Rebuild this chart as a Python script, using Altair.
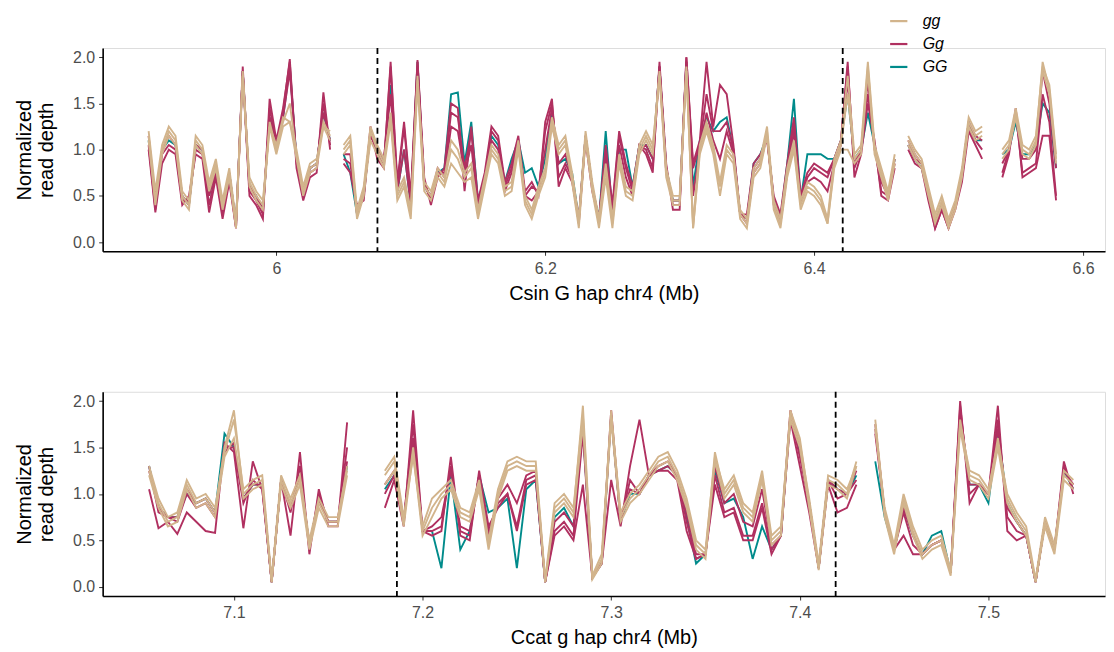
import altair as alt
import pandas as pd

# ---------------- data ----------------
TOP_START = 5.905
BOT_START = 7.055
STEP = 0.005

TOP_DOMAIN = [5.8708, 6.6164]
BOT_DOMAIN = [7.0304, 7.5618]
TOP_TICKS = [6.0, 6.2, 6.4, 6.6]
BOT_TICKS = [7.1, 7.2, 7.3, 7.4, 7.5]
Y_TICKS = [0.0, 0.5, 1.0, 1.5, 2.0]
TOP_DASHES = [6.0752, 6.4213]
BOT_DASHES = [7.1864, 7.4190]

GENOTYPES = ["gg", "Gg", "GG"]
COLORS = ["#D2B48C", "#B03060", "#008B8B"]

N = None

gg_top_1 = [1.15,0.45,1.00,1.20,1.10,0.50,0.40,1.10,1.00,0.60,
 0.85,0.40,0.75,0.18,1.85,0.65,0.50,0.40,1.30,1.00,
 1.30,1.50,0.95,0.55,0.80,0.85,1.30,1.15,N,1.00,
 1.10,0.30,0.55,1.20,1.00,0.85,1.40,0.50,0.65,0.30,
 1.80,0.60,0.50,0.75,0.65,1.00,0.90,0.70,0.80,0.30,
 0.65,1.00,0.90,0.55,0.60,1.05,0.45,0.30,0.55,0.75,
 1.30,1.00,1.10,0.70,0.20,1.15,0.60,0.20,0.80,0.20,
 0.90,0.55,0.50,1.00,1.15,1.00,1.85,0.75,0.45,0.45,
 1.90,0.15,1.00,1.25,1.00,0.60,1.00,0.90,0.30,0.20,
 0.75,0.85,1.20,0.40,0.20,0.75,1.05,0.40,0.60,0.55,
 0.45,0.20,0.85,1.05,1.60,0.90,1.00,1.90,1.00,0.75,
 0.50,0.90,N,1.10,0.95,0.85,0.55,0.25,0.45,0.20,
 0.40,0.75,1.30,1.15,1.20,N,N,0.95,1.05,1.40,
 1.00,0.95,1.10,1.95,1.65,0.90]

gg_top_2 = [1.20,0.55,1.05,1.25,1.15,0.55,0.45,1.15,1.05,0.65,
 0.90,0.45,0.80,0.22,1.80,0.70,0.55,0.45,1.25,1.05,
 1.35,1.30,1.00,0.60,0.85,0.90,1.25,1.20,N,1.05,
 1.15,0.35,0.60,1.25,1.05,0.90,1.35,0.55,0.70,0.35,
 1.75,0.65,0.55,0.80,0.70,1.10,1.00,0.75,0.85,0.35,
 0.70,1.05,0.95,0.60,0.65,1.10,0.50,0.35,0.60,0.80,
 1.35,1.05,1.15,0.75,0.25,1.20,0.65,0.25,0.85,0.25,
 0.95,0.60,0.55,1.05,1.20,1.05,1.80,0.80,0.50,0.50,
 1.85,0.20,1.05,1.30,1.05,0.65,1.05,0.95,0.35,0.25,
 0.80,0.90,1.25,0.45,0.25,0.80,1.10,0.45,0.65,0.60,
 0.50,0.25,0.90,1.10,1.80,0.95,1.05,1.95,1.05,0.80,
 0.55,0.95,N,1.15,1.00,0.90,0.60,0.30,0.50,0.25,
 0.45,0.80,1.35,1.20,1.25,N,N,1.00,1.10,1.45,
 1.05,1.00,1.15,1.90,1.70,0.95]

gg_top_3 = [1.10,0.40,0.95,1.15,1.05,0.45,0.35,1.05,0.95,0.55,
 0.80,0.35,0.70,0.15,1.80,0.60,0.45,0.35,1.25,0.95,
 1.25,1.30,0.90,0.50,0.75,0.80,1.25,1.10,N,0.95,
 1.05,0.25,0.50,1.10,0.95,0.80,1.30,0.45,0.60,0.25,
 1.70,0.55,0.45,0.70,0.60,0.85,0.75,0.65,0.70,0.25,
 0.60,0.95,0.85,0.50,0.55,1.00,0.40,0.25,0.50,0.70,
 1.25,0.95,1.05,0.65,0.15,1.10,0.55,0.15,0.70,0.15,
 0.85,0.50,0.45,0.95,1.10,0.95,1.80,0.70,0.40,0.40,
 1.85,0.15,0.95,1.20,0.95,0.50,0.95,0.85,0.25,0.15,
 0.70,0.80,1.15,0.35,0.15,0.70,1.00,0.35,0.55,0.50,
 0.40,0.20,0.80,1.00,1.00,0.85,0.95,1.85,0.95,0.70,
 0.45,0.85,N,1.05,0.90,0.80,0.50,0.20,0.40,0.15,
 0.35,0.70,1.25,1.10,1.15,N,N,0.90,1.00,1.35,
 0.95,0.90,1.05,1.85,1.60,0.85]

Gg_top_1 = [1.05,0.35,0.95,1.05,1.00,0.45,0.45,1.00,0.95,0.40,
 0.75,0.30,0.70,0.15,1.90,0.55,0.45,0.30,1.45,1.05,
 1.40,1.98,0.85,0.50,0.75,0.80,1.50,1.05,N,0.90,
 0.85,0.35,0.50,1.20,0.95,0.85,1.90,0.60,1.25,0.45,
 1.95,0.65,0.45,0.75,0.75,1.40,1.35,0.80,1.20,0.40,
 0.70,1.20,1.10,0.60,0.80,1.10,0.50,0.60,0.55,1.20,
 1.50,0.70,0.85,0.70,0.25,1.15,0.60,0.25,1.00,0.35,
 1.15,0.80,0.55,1.05,1.00,0.80,1.90,0.80,0.40,0.40,
 2.00,0.80,1.05,1.60,1.20,1.20,1.30,1.00,0.30,0.25,
 0.80,0.90,1.15,0.45,0.25,0.80,1.30,0.45,0.70,0.80,
 0.75,0.70,0.90,1.10,1.90,0.80,1.00,1.60,1.05,0.55,
 0.50,0.85,N,1.05,0.90,0.85,0.50,0.15,0.35,0.15,
 0.40,0.70,1.25,1.10,1.00,N,N,0.75,1.00,1.40,
 0.75,0.80,0.85,1.60,1.30,0.50]

Gg_top_2 = [1.15,0.45,1.00,1.15,1.05,0.50,0.40,1.05,1.00,0.50,
 0.80,0.35,0.75,0.20,1.85,0.60,0.50,0.35,1.35,1.00,
 1.35,1.85,0.90,0.55,0.80,0.85,1.40,1.10,N,0.95,
 0.95,0.30,0.55,1.15,1.00,0.90,1.60,0.55,1.00,0.40,
 1.90,0.60,0.50,0.80,0.70,1.25,1.20,0.75,1.05,0.35,
 0.70,1.10,1.00,0.55,0.75,1.10,0.50,0.45,0.55,1.00,
 1.45,0.85,0.95,0.70,0.20,1.15,0.60,0.20,0.95,0.30,
 1.05,0.70,0.50,1.00,1.05,0.90,1.90,0.75,0.45,0.45,
 1.95,0.50,1.00,1.40,1.10,0.90,1.20,0.95,0.30,0.20,
 0.75,0.85,1.15,0.40,0.20,0.75,1.20,0.45,0.65,0.70,
 0.65,0.55,0.85,1.05,1.75,0.85,1.00,1.75,1.00,0.65,
 0.50,0.90,N,1.10,0.95,0.85,0.55,0.20,0.40,0.20,
 0.40,0.75,1.30,1.15,1.10,N,N,0.85,1.00,1.40,
 0.90,0.90,1.00,1.85,1.50,0.80]

Gg_top_3 = [1.00,0.32,0.85,1.00,0.95,0.40,0.50,0.95,0.90,0.32,
 0.70,0.25,0.65,0.15,1.85,0.50,0.40,0.25,1.55,1.10,
 1.45,1.95,0.80,0.45,0.70,0.75,1.62,1.00,N,0.85,
 0.75,0.40,0.45,1.25,0.90,0.80,1.95,0.65,1.30,0.50,
 1.97,0.70,0.40,0.70,0.80,1.50,1.45,0.55,1.25,0.45,
 0.75,1.25,1.15,0.65,0.85,1.15,0.55,0.65,0.50,1.30,
 1.55,0.60,0.80,0.65,0.25,1.10,0.55,0.25,1.05,0.40,
 1.20,0.85,0.60,1.05,0.95,0.75,1.95,0.85,0.35,0.35,
 2.00,0.85,1.10,1.95,1.25,1.70,1.60,1.05,0.30,0.30,
 0.85,0.95,1.10,0.50,0.30,0.85,1.35,0.50,0.75,0.85,
 0.80,0.75,0.90,1.10,1.95,0.70,0.95,1.50,1.10,0.50,
 0.45,0.80,N,1.00,0.85,0.80,0.45,0.15,0.35,0.15,
 0.35,0.65,1.20,1.05,0.90,N,N,0.70,0.95,1.45,
 0.70,0.75,0.80,1.15,1.15,0.45]

GG_top_1 = [1.10,0.40,1.00,1.10,1.05,0.50,0.40,1.05,1.00,0.50,
 0.80,0.35,0.75,0.20,1.85,0.60,0.50,0.35,1.35,1.05,
 1.35,1.90,0.90,0.55,0.80,0.85,1.40,1.10,N,0.95,
 0.75,0.30,0.50,1.20,1.00,0.85,1.70,0.55,1.00,0.40,
 1.95,0.60,0.50,0.75,0.80,1.60,1.62,0.85,1.30,0.45,
 0.70,1.15,1.05,0.65,0.90,1.10,0.75,0.80,0.60,0.90,
 1.40,0.85,0.90,0.75,0.25,1.15,0.60,0.25,1.20,0.30,
 1.00,1.00,0.60,1.05,1.05,0.90,1.90,0.80,0.45,0.45,
 1.95,0.60,1.10,1.35,1.20,1.30,1.35,1.00,0.30,0.25,
 0.85,0.95,1.15,0.45,0.25,0.85,1.55,0.45,0.95,0.95,
 0.95,0.90,0.90,1.10,1.60,0.90,1.00,1.40,1.05,0.70,
 0.50,0.90,N,1.05,0.90,0.80,0.55,0.20,0.40,0.20,
 0.40,0.75,1.30,1.10,1.10,N,N,0.95,1.00,1.30,
 0.95,0.95,1.05,1.50,1.40,0.80]

gg_bot_1 = [1.25,0.90,0.70,0.75,1.10,0.90,0.95,0.80,1.50,1.90,
 1.00,1.10,1.15,0.05,1.15,0.90,1.15,0.45,0.90,0.70,
 0.70,1.30,N,N,N,1.20,1.35,0.70,1.50,0.60,
 0.85,1.00,1.10,0.80,0.75,1.10,0.45,1.00,1.30,1.35,
 1.30,1.30,0.05,0.85,0.95,0.80,1.95,0.10,0.30,1.90,
 0.75,0.95,1.05,1.20,1.35,1.40,1.20,0.90,0.45,0.35,
 1.45,1.00,1.15,0.85,0.75,1.20,0.50,0.60,1.90,1.60,
 0.90,0.20,1.15,1.10,1.00,1.35,N,1.80,0.80,0.40,
 0.95,0.60,0.35,0.45,0.50,0.15,1.80,1.20,1.15,1.00,
 1.60,0.95,0.75,0.60,0.05,0.70,0.40,1.20,1.10]

gg_bot_2 = [1.30,0.95,0.75,0.80,1.15,0.95,1.00,0.85,1.45,1.80,
 1.05,1.15,1.20,0.08,1.20,0.95,1.20,0.50,0.95,0.75,
 0.75,1.25,N,N,N,1.25,1.40,0.75,1.40,0.65,
 0.95,1.05,1.15,0.85,0.80,1.15,0.50,1.05,1.35,1.40,
 1.35,1.35,0.08,0.90,1.00,0.85,1.85,0.12,0.35,1.85,
 0.80,1.00,1.10,1.25,1.40,1.45,1.25,0.95,0.50,0.40,
 1.40,1.05,1.20,0.90,0.80,1.25,0.55,0.65,1.85,1.55,
 0.95,0.25,1.20,1.15,1.05,1.30,N,1.70,0.85,0.45,
 1.00,0.65,0.40,0.50,0.55,0.18,1.75,1.25,1.20,1.05,
 1.55,1.00,0.80,0.65,0.08,0.75,0.45,1.25,1.15]

gg_bot_3 = [1.20,0.85,0.65,0.70,1.05,0.85,0.90,0.75,1.40,1.60,
 0.95,1.05,1.10,0.05,1.10,0.85,1.10,0.40,0.85,0.65,
 0.65,1.20,N,N,N,1.10,1.25,0.65,1.45,0.55,
 0.75,0.95,1.05,0.75,0.70,1.05,0.40,0.95,1.25,1.30,
 1.25,1.25,0.05,0.80,0.90,0.75,1.75,0.08,0.25,1.80,
 0.70,0.90,1.00,1.15,1.30,1.35,1.15,0.85,0.40,0.30,
 1.35,0.95,1.10,0.80,0.70,1.15,0.45,0.55,1.80,1.50,
 0.85,0.18,1.10,1.05,0.95,1.30,N,1.75,0.75,0.35,
 0.90,0.55,0.30,0.40,0.45,0.12,1.70,1.15,1.10,0.95,
 1.50,0.90,0.70,0.55,0.05,0.65,0.35,1.15,1.05]

Gg_bot_1 = [1.30,0.80,0.75,0.70,1.00,0.85,0.90,0.75,1.50,1.50,
 0.90,1.15,1.05,0.05,1.15,0.80,1.30,0.40,1.00,0.70,
 0.70,1.50,N,N,N,1.00,1.20,0.70,1.75,0.60,
 0.60,0.65,1.30,0.60,0.55,1.20,0.60,0.90,1.00,0.65,
 1.15,1.20,0.05,0.60,0.70,0.55,1.65,0.10,0.25,1.85,
 0.70,1.15,1.00,1.20,1.25,1.30,1.20,0.70,0.30,0.35,
 1.20,0.80,0.85,0.55,0.55,0.90,0.40,0.55,1.85,1.40,
 0.90,0.20,1.15,0.95,1.00,1.15,N,1.70,0.80,0.40,
 0.80,0.45,0.35,0.45,0.50,0.15,1.95,1.00,1.10,1.00,
 1.80,0.75,0.60,0.55,0.05,0.70,0.40,1.30,1.05]

Gg_bot_2 = [1.25,0.85,0.75,0.75,1.05,0.90,0.95,0.80,1.45,1.55,
 0.95,1.10,1.10,0.05,1.15,0.85,1.20,0.45,0.95,0.70,
 0.70,1.35,N,N,N,1.10,1.25,0.70,1.60,0.60,
 0.65,0.75,1.25,0.65,0.60,1.20,0.55,0.95,1.10,0.90,
 1.20,1.25,0.05,0.70,0.80,0.65,1.75,0.10,0.25,1.90,
 0.70,1.05,1.00,1.20,1.30,1.35,1.20,0.80,0.35,0.35,
 1.30,0.90,1.00,0.70,0.65,1.05,0.45,0.55,1.90,1.50,
 0.90,0.20,1.15,1.05,1.00,1.25,N,1.75,0.80,0.40,
 0.85,0.55,0.35,0.45,0.50,0.15,1.90,1.10,1.10,1.00,
 1.70,0.85,0.70,0.55,0.05,0.70,0.40,1.25,1.10]

Gg_bot_3 = [1.05,0.63,0.70,0.57,0.80,0.70,0.60,0.58,1.55,1.45,
 0.63,1.35,1.05,0.05,1.15,0.55,1.45,0.35,1.05,0.65,
 0.65,1.77,N,N,N,0.85,1.15,0.65,1.90,0.60,
 0.55,0.60,1.40,0.55,0.50,1.25,0.65,0.85,1.00,0.60,
 1.10,1.15,0.05,0.55,0.65,0.50,1.10,0.10,0.25,1.15,
 0.65,1.30,1.80,1.20,1.25,1.25,1.15,0.60,0.30,0.35,
 1.10,0.75,0.80,0.50,0.50,0.85,0.35,0.55,1.80,1.30,
 0.80,0.20,1.10,0.80,0.85,1.10,N,1.65,0.80,0.40,
 0.55,0.35,0.35,0.45,0.50,0.15,2.00,0.90,1.10,1.00,
 1.95,0.60,0.50,0.55,0.05,0.70,0.40,1.35,1.00]

GG_bot_1 = [1.30,0.85,0.75,0.75,1.00,0.90,0.95,0.80,1.65,1.50,
 0.95,1.10,1.10,0.05,1.15,0.85,1.20,0.45,0.95,0.70,
 0.70,1.30,N,N,N,1.05,1.20,0.70,1.60,0.60,
 0.60,0.20,1.20,0.40,0.60,1.20,0.80,0.85,0.95,0.20,
 1.05,1.15,0.05,0.75,0.85,0.65,1.70,0.10,0.25,1.85,
 0.70,1.00,1.00,1.20,1.25,1.30,1.20,0.75,0.25,0.35,
 1.25,0.90,0.95,0.75,0.30,0.65,0.40,0.55,1.85,1.45,
 0.90,0.20,1.15,1.05,1.00,1.20,N,1.35,0.75,0.40,
 0.85,0.55,0.35,0.55,0.60,0.15,1.85,1.10,1.10,0.90,
 1.70,0.90,0.70,0.55,0.05,0.70,0.40,1.25,1.05]

TOP_SERIES = [
    ("GG1", "GG", GG_top_1),
    ("Gg1", "Gg", Gg_top_1), ("Gg2", "Gg", Gg_top_2), ("Gg3", "Gg", Gg_top_3),
    ("gg1", "gg", gg_top_1), ("gg2", "gg", gg_top_2), ("gg3", "gg", gg_top_3),
]
BOT_SERIES = [
    ("GG1", "GG", GG_bot_1),
    ("Gg1", "Gg", Gg_bot_1), ("Gg2", "Gg", Gg_bot_2), ("Gg3", "Gg", Gg_bot_3),
    ("gg1", "gg", gg_bot_1), ("gg2", "gg", gg_bot_2), ("gg3", "gg", gg_bot_3),
]


def build_df(start, series):
    rows = []
    for name, geno, vals in series:
        seg = 0
        gap = True
        for i, v in enumerate(vals):
            if v is None:
                gap = True
                continue
            if gap:
                seg += 1
                gap = False
            rows.append({"pos": round(start + STEP * i, 4), "depth": v,
                         "genotype": geno, "seg": f"{name}_{seg}"})
    return pd.DataFrame(rows)


FONT = "Liberation Sans"


def panel(df, domain, ticks, dashes, xtitle, width, height, legend):
    color_scale = alt.Scale(domain=GENOTYPES, range=COLORS)
    if legend:
        leg = alt.Legend(title=None, orient="none", legendX=789, legendY=-37,
                         symbolType="stroke", symbolStrokeWidth=2.2, symbolSize=300,
                         labelFontSize=16, labelFontStyle="italic", labelFont=FONT,
                         labelColor="black", rowPadding=5, labelOffset=14, padding=0)
    else:
        leg = None
    x = alt.X("pos:Q", scale=alt.Scale(domain=domain, nice=False, zero=False),
              axis=alt.Axis(values=ticks, format="~g", title=xtitle, grid=False,
                            labelFontSize=16, labelColor="#4D4D4D", labelFont=FONT,
                            titleFontSize=20, titleFontWeight="normal", titleFont=FONT,
                            titleColor="black", tickSize=4, tickColor="#333333",
                            domainColor="black", domainWidth=1.6, labelPadding=5,
                            titlePadding=7, labelFlush=False))
    y = alt.Y("depth:Q", scale=alt.Scale(domain=[-0.1, 2.1], nice=False, zero=False),
              axis=alt.Axis(values=Y_TICKS, format=".1f", title=["Normalized", "read depth"],
                            grid=False, labelFontSize=16, labelColor="#4D4D4D", labelFont=FONT,
                            titleFontSize=20, titleFontWeight="normal", titleFont=FONT,
                            titleColor="black", titleLineHeight=22, tickSize=4,
                            tickColor="#333333", domainColor="black", domainWidth=1.6,
                            labelPadding=4, titlePadding=16))
    layers = []
    for g in ["GG", "Gg", "gg"]:
        sub = df[df["genotype"] == g]
        layers.append(
            alt.Chart(sub).mark_line(strokeWidth=1.9, clip=True).encode(
                x=x, y=y,
                color=alt.Color("genotype:N", scale=color_scale, legend=leg),
                detail="seg:N",
            )
        )
    rules = alt.Chart(pd.DataFrame({"pos": dashes})).mark_rule(
        color="black", strokeDash=[6, 4], strokeWidth=1.8
    ).encode(x=alt.X("pos:Q"))
    return alt.layer(*layers, rules).properties(width=width, height=height)


top_df = build_df(TOP_START, TOP_SERIES)
bot_df = build_df(BOT_START, BOT_SERIES)

top = panel(top_df, TOP_DOMAIN, TOP_TICKS, TOP_DASHES, "Csin G hap chr4 (Mb)", 1006, 204, True)
bot = panel(bot_df, BOT_DOMAIN, BOT_TICKS, BOT_DASHES, "Ccat g hap chr4 (Mb)", 1006, 205, False)

chart = alt.vconcat(top, bot, spacing=86).resolve_scale(
    x="independent", y="independent", color="independent"
).properties(
    padding={"left": 6, "right": 0, "top": 1, "bottom": 0}
).configure_view(stroke=None).configure(font=FONT)

chart.save("out.html", embed_options={"renderer": "svg", "actions": False})
